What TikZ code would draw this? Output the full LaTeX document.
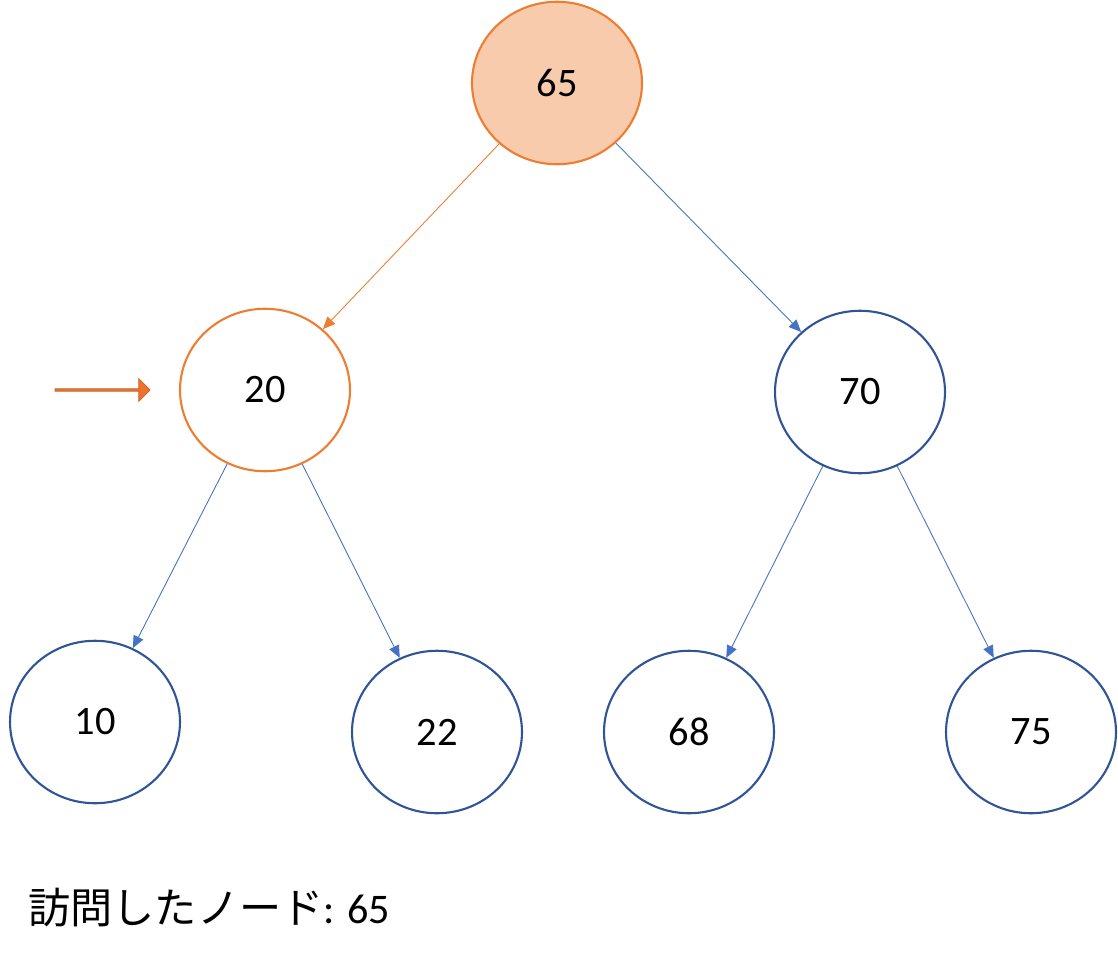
\documentclass[tikz,border=0pt]{standalone}
\usepackage{fontspec}
\setmainfont{Carlito}
\newfontfamily\cjk{Noto Sans CJK JP}
\usetikzlibrary{shapes.geometric,shapes.arrows,arrows.meta,positioning}
\definecolor{peach}{HTML}{F8CBAD}
\definecolor{orng}{HTML}{ED7D31}
\definecolor{navy}{HTML}{2F5597}
\definecolor{edgeblue}{HTML}{4472C4}
\begin{document}
\begin{tikzpicture}[
    x=0.02cm, y=-0.02cm,
    tnode/.style={ellipse, draw=navy, line width=1.2pt, minimum width=3.4cm, minimum height=3.25cm, font=\fontsize{23}{27}\selectfont},
    visit/.style={tnode, draw=orng},
    edge/.style={-{Triangle[length=7pt,width=6pt]}, edgeblue, line width=0.5pt},
    pointer/.style={single arrow, draw=orng!80!black, fill=orng!90!red, minimum height=1.9cm, minimum width=0.45cm, single arrow head extend=0.06cm, inner sep=0pt}
]
    \useasboundingbox (0,0) rectangle (1118,960);
    % root (visited)
    \node[visit, fill=peach] (n65) at (557,83) {65};
    % second level
    \node[visit] (n20) at (265,390) {20};
    \node[tnode] (n70) at (860,392) {70};
    % leaves
    \node[tnode] (n10) at (95,722) {10};
    \node[tnode] (n22) at (437,732) {22};
    \node[tnode] (n68) at (689,732) {68};
    \node[tnode] (n75) at (1031,732) {75};
    % edges
    \draw[edge, orng] (n65) -- (n20);
    \draw[edge] (n65) -- (n70);
    \draw[edge] (n20) -- (n10);
    \draw[edge] (n20) -- (n22);
    \draw[edge] (n70) -- (n68);
    \draw[edge] (n70) -- (n75);
    % current pointer
    \node[pointer] (ptr) at (102,390) {};
    % visited list
    \node[anchor=west, font=\fontsize{24}{28}\selectfont, inner sep=0pt] (visited) at (28,908) {{\cjk 訪問したノード}: 65};
\end{tikzpicture}
\end{document}
